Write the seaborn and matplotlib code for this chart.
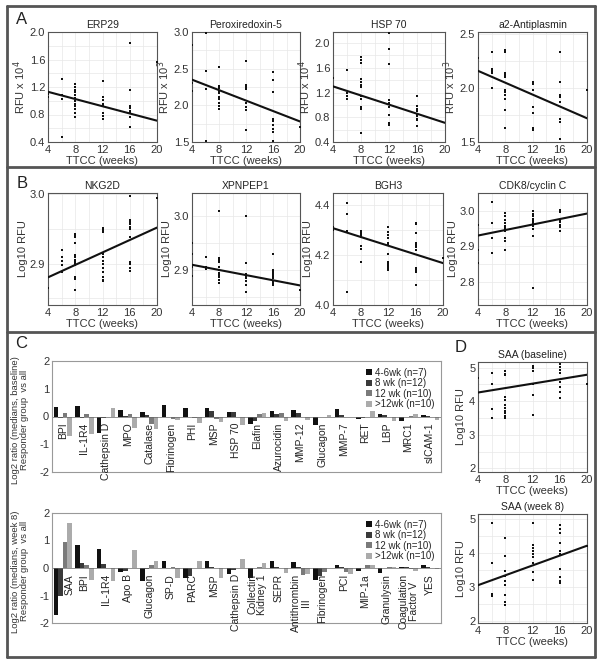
import numpy as np
import pandas as pd
import seaborn as sns
import matplotlib.pyplot as plt
from matplotlib.lines import Line2D
from matplotlib.ticker import AutoMinorLocator

W, H = 602, 664

# scatter panels: week -> measured values
erp29 = {4: [1.10, 1.05], 6: [1.32, 1.08, 1.03, 0.47],
         8: [1.24, 1.20, 1.16, 1.12, 1.08, 1.04, 1.00, 0.96, 0.92, 0.88, 0.82, 0.76],
         12: [1.29, 1.05, 1.01, 0.96, 0.92, 0.82, 0.78, 0.74],
         16: [1.84, 1.15, 0.93, 0.89, 0.85, 0.82, 0.77, 0.62], 20: [1.56]}
erp29_fit = [1.13, 0.71]

perox = {4: [2.82, 2.30, 2.20], 6: [2.98, 2.47, 2.22, 1.52],
         8: [2.52, 2.27, 2.24, 2.20, 2.17, 2.12, 2.08, 2.03, 1.99, 1.95],
         12: [2.60, 2.28, 2.25, 2.22, 2.03, 1.98, 1.93, 1.67],
         16: [2.45, 2.34, 2.18, 1.82, 1.78, 1.73, 1.68, 1.64, 1.51], 20: [1.70]}
perox_fit = [2.35, 1.78]

hsp70 = {4: [1.44], 6: [1.56, 1.20, 1.14, 1.09],
         8: [1.77, 1.73, 1.68, 1.42, 1.37, 1.33, 1.29, 1.14, 1.10, 0.97, 0.93, 0.55],
         12: [2.17, 1.90, 1.67, 1.08, 1.03, 0.97, 0.83, 0.71, 0.67],
         16: [1.15, 0.98, 0.94, 0.90, 0.86, 0.82, 0.78, 0.75, 0.66]}
hsp70_fit = [1.30, 0.71]

antiplasmin = {4: [2.28], 6: [2.33, 2.18, 2.16, 2.14, 2.00],
               8: [2.35, 2.33, 2.14, 2.12, 2.10, 1.98, 1.96, 1.94, 1.90, 1.80, 1.63],
               12: [2.06, 2.04, 1.98, 1.82, 1.77, 1.63, 1.61],
               16: [2.33, 2.06, 1.94, 1.92, 1.87, 1.71, 1.69, 1.53], 20: [1.98]}
antiplasmin_fit = [2.16, 1.72]

nkg2d = {4: [2.881, 2.864], 6: [2.919, 2.909, 2.904, 2.898, 2.888],
         8: [2.943, 2.940, 2.938, 2.929, 2.912, 2.909, 2.905, 2.902, 2.900, 2.898, 2.881, 2.878, 2.861],
         12: [2.952, 2.948, 2.945, 2.914, 2.909, 2.904, 2.899, 2.894, 2.888, 2.881, 2.876, 2.874],
         16: [2.997, 2.963, 2.960, 2.957, 2.953, 2.950, 2.939, 2.902, 2.899, 2.894, 2.889],
         20: [2.995]}
nkg2d_fit = [2.880, 2.952]

xpnpep1 = {4: [2.950, 2.929, 2.906, 2.889], 6: [2.924, 2.906, 2.903],
           8: [3.009, 2.923, 2.919, 2.915, 2.905, 2.900, 2.895, 2.891, 2.887, 2.882, 2.876],
           12: [3.000, 2.913, 2.893, 2.889, 2.885, 2.881, 2.873, 2.859],
           16: [2.930, 2.901, 2.897, 2.893, 2.889, 2.885, 2.881, 2.877, 2.873],
           20: [2.864]}
xpnpep1_fit = [2.910, 2.872]

bgh3 = {4: [4.312, 4.302], 6: [4.410, 4.365, 4.295, 4.053],
        8: [4.298, 4.288, 4.281, 4.274, 4.236, 4.225, 4.171],
        12: [4.312, 4.292, 4.281, 4.267, 4.250, 4.242, 4.204, 4.171, 4.166, 4.157, 4.150, 4.140],
        16: [4.330, 4.323, 4.288, 4.250, 4.242, 4.232, 4.222, 4.150, 4.140, 4.133, 4.081],
        20: [4.190]}
bgh3_fit = [4.308, 4.168]

cdk8 = {4: [2.961, 2.888, 2.853], 6: [3.025, 2.966, 2.923, 2.881],
        8: [2.994, 2.985, 2.975, 2.966, 2.956, 2.952, 2.947, 2.942, 2.923, 2.914, 2.889],
        12: [2.999, 2.992, 2.985, 2.977, 2.970, 2.964, 2.956, 2.949, 2.928, 2.783],
        16: [3.003, 2.997, 2.975, 2.968, 2.961, 2.954, 2.942]}
cdk8_fit = [2.930, 2.992]

saa_base = {4: [4.70], 6: [4.84, 4.52, 3.76, 3.51],
            8: [4.89, 4.82, 4.77, 4.13, 4.03, 3.88, 3.80, 3.72, 3.64, 3.56, 3.49],
            12: [5.05, 4.98, 4.90, 4.52, 4.20, 3.60],
            16: [5.10, 5.02, 4.93, 4.85, 4.57, 4.43, 4.28, 4.10], 20: [4.50]}
saa_base_fit = [4.26, 4.79]

saa_w8 = {6: [4.88, 3.71, 2.78, 2.73],
          8: [4.46, 3.93, 3.46, 3.31, 3.17, 3.07, 2.75, 2.55, 2.45],
          12: [4.90, 4.24, 4.16, 4.07, 3.98, 3.89, 3.72, 3.44, 3.20],
          16: [4.83, 4.71, 4.61, 4.31, 4.05, 3.98, 3.53, 3.29, 3.16, 3.12], 20: [4.20]}
saa_w8_fit = [3.05, 4.22]

# bar panels
groups = ["4-6wk (n=7)", "8 wk (n=12)", "12 wk (n=10)", ">12wk (n=10)"]
group_colors = ["#111111", "#3a3a3a", "#7a7a7a", "#ababab"]

base_genes = ["BPI", "IL-1R4", "Cathepsin D", "MPO", "Catalase", "Fibrinogen", "PHI", "MSP",
              "HSP 70", "Elafin", "Azurocidin", "MMP-12", "Glucagon", "MMP-7", "RET", "LBP",
              "MRC1", "sICAM-1"]
base_wk4_6 = [0.35, 0.37, -0.60, 0.25, 0.18, 0.40, 0.30, 0.30, 0.18, -0.27, 0.20, 0.22, -0.30, 0.28, -0.08, 0.10, -0.18, 0.07]
base_wk8 = [-0.06, -0.05, -0.05, 0.02, 0.07, -0.02, -0.03, 0.20, 0.15, -0.18, 0.10, 0.12, 0.00, 0.05, -0.07, 0.06, 0.00, 0.02]
base_wk12 = [0.12, 0.08, -0.02, 0.08, -0.28, -0.08, -0.05, -0.10, -0.03, 0.10, 0.14, 0.00, 0.00, 0.00, 0.00, 0.00, 0.02, 0.00]
base_wk12p = [-0.70, -0.62, 0.30, -0.42, -0.45, -0.12, -0.22, -0.20, -0.30, 0.12, -0.18, -0.12, 0.05, -0.02, 0.20, -0.15, 0.10, -0.13]

w8_genes = ["SAA", "BPI", "IL-1R4", "Apo B", "Glucagon", "SP-D", "PARC", "MSP", "Cathepsin D",
            "Collectin\nKidney 1", "SEPR", "Antithrombin\nIII", "Fibrinogen", "PCI", "MIP-1a",
            "Granulysin", "Coagulation\nFactor V", "YES"]
w8_wk4_6 = [-1.70, 0.85, 0.70, -0.15, -0.47, 0.27, -0.35, 0.24, -0.20, -0.35, 0.27, 0.22, -0.45, 0.10, -0.12, -0.18, 0.05, 0.10]
w8_wk8 = [-1.00, 0.18, 0.15, -0.10, -0.03, 0.00, -0.30, 0.05, -0.08, 0.00, 0.02, 0.05, -0.30, 0.05, 0.00, 0.00, 0.02, 0.05]
w8_wk12 = [0.93, 0.10, 0.00, 0.00, 0.10, 0.03, 0.00, 0.00, 0.00, 0.05, 0.00, -0.25, -0.15, -0.15, 0.10, 0.05, -0.05, 0.00]
w8_wk12p = [1.65, -0.45, -0.48, 0.65, 0.25, -0.35, 0.25, -0.37, 0.33, 0.18, -0.18, -0.20, 0.00, -0.22, 0.12, 0.05, -0.12, -0.03]

sns.set_theme(style="white")
plt.rcParams['font.family'] = ['Liberation Sans', 'DejaVu Sans']
plt.rcParams['axes.unicode_minus'] = False

fig = plt.figure(figsize=(W / 100, H / 100), dpi=100)


def px_axes(left, top, right, bottom):
    return fig.add_axes([left / W, 1 - bottom / H, (right - left) / W, (bottom - top) / H])


def scatter_panel(ax, title, data, fit, ylim, yticks, ylabel, fmt):
    df = pd.DataFrame([(wk, v) for wk, vals in data.items() for v in vals], columns=["week", "value"])
    sns.scatterplot(data=df, x="week", y="value", ax=ax, color="#111111", s=3, linewidth=0,
                    marker="s", zorder=3)
    ax.plot([4, 20], fit, color="#111111", lw=1.5, zorder=4)
    ax.set_xlim(4, 20)
    ax.set_ylim(*ylim)
    ax.set_xticks([4, 8, 12, 16, 20])
    ax.set_yticks(yticks)
    ax.set_yticklabels([fmt % t for t in yticks])
    ax.xaxis.set_minor_locator(AutoMinorLocator(2))
    ax.yaxis.set_minor_locator(AutoMinorLocator(2))
    ax.grid(True, which="both", color="#e8e8e8", lw=0.5)
    ax.tick_params(length=0, labelsize=8, pad=2, colors="#333333")
    ax.set_title(title, fontsize=7.5, pad=3, color="#222222")
    ax.set_xlabel("TTCC (weeks)", fontsize=8, labelpad=1, color="#333333")
    ax.set_ylabel(ylabel, fontsize=8, labelpad=1, color="#333333")
    for s in ax.spines.values():
        s.set_color("#555555")
        s.set_linewidth(0.8)


def bar_panel(ax, genes, series, ylabel, label_shift):
    rows = []
    for g, vals in zip(groups, series):
        for gene, v in zip(genes, vals):
            rows.append((gene, g, v))
    df = pd.DataFrame(rows, columns=["gene", "group", "value"])
    sns.barplot(data=df, x="gene", y="value", hue="group", order=genes, hue_order=groups,
                palette=group_colors, saturation=1, width=0.85, errorbar=None, linewidth=0, ax=ax)
    ax.set_ylim(-2, 2)
    ax.set_yticks([-2, -1, 0, 1, 2])
    ax.set_xticks([])
    ax.set_xlabel("")
    ax.set_ylabel(ylabel, fontsize=6.8, labelpad=4, color="#333333", linespacing=1.0)
    ax.yaxis.set_label_coords(-0.06, 0.47)
    ax.axhline(0, color="#666666", lw=0.5)
    ax.tick_params(length=0, labelsize=8, pad=2, colors="#333333")
    for i, gene in enumerate(genes):
        ax.text(i + label_shift.get(gene, 0), -0.22, gene, rotation=90, ha="center", va="top",
                fontsize=7.5, color="#222222", linespacing=1.0, multialignment="center")
    ax.legend(loc="upper right", frameon=False, fontsize=7, handlelength=0.6, handleheight=0.6,
              handletextpad=0.3, labelspacing=0.05, borderaxespad=0.3)
    for s in ax.spines.values():
        s.set_color("#999999")
        s.set_linewidth(0.8)


# panel A
scatter_panel(px_axes(48, 32, 157, 142), "ERP29", erp29, erp29_fit, (0.4, 2.0),
              [0.4, 0.8, 1.2, 1.6, 2.0], r"RFU x 10$^4$", "%.1f")
scatter_panel(px_axes(192, 32, 300, 142), "Peroxiredoxin-5", perox, perox_fit, (1.5, 3.0),
              [1.5, 2.0, 2.5, 3.0], r"RFU x 10$^3$", "%.1f")
scatter_panel(px_axes(333, 32, 445, 142), "HSP 70", hsp70, hsp70_fit, (0.4, 2.18),
              [0.4, 0.8, 1.2, 1.6, 2.0], r"RFU x 10$^4$", "%.1f")
scatter_panel(px_axes(478, 32, 587, 142), "a2-Antiplasmin", antiplasmin, antiplasmin_fit, (1.5, 2.52),
              [1.5, 2.0, 2.5], r"RFU x 10$^3$", "%.1f")

# panel B
scatter_panel(px_axes(48, 193, 157, 305), "NKG2D", nkg2d, nkg2d_fit, (2.84, 3.002),
              [2.9, 3.0], "Log10 RFU", "%.1f")
scatter_panel(px_axes(192, 193, 300, 305), "XPNPEP1", xpnpep1, xpnpep1_fit, (2.836, 3.042),
              [2.9, 3.0], "Log10 RFU", "%.1f")
scatter_panel(px_axes(333, 193, 443, 305), "BGH3", bgh3, bgh3_fit, (4.0, 4.449),
              [4.0, 4.2, 4.4], "Log10 RFU", "%.1f")
scatter_panel(px_axes(478, 193, 587, 305), "CDK8/cyclin C", cdk8, cdk8_fit, (2.734, 3.05),
              [2.8, 2.9, 3.0], "Log10 RFU", "%.1f")

# panel C
bar_panel(px_axes(52, 361, 441, 472), base_genes, [base_wk4_6, base_wk8, base_wk12, base_wk12p],
          "Log2 ratio (medians, baseline)\nResponder group  vs all", {})
bar_panel(px_axes(52, 513, 441, 623), w8_genes, [w8_wk4_6, w8_wk8, w8_wk12, w8_wk12p],
          "Log2 ratio (medians, week 8)\nResponder group  vs all", {"SAA": 0.3})

# panel D
scatter_panel(px_axes(478, 362, 587, 472), "SAA (baseline)", saa_base, saa_base_fit, (1.89, 5.17),
              [2, 3, 4, 5], "Log10 RFU", "%d")
scatter_panel(px_axes(478, 514, 587, 623), "SAA (week 8)", saa_w8, saa_w8_fit, (1.93, 5.16),
              [2, 3, 4, 5], "Log10 RFU", "%d")

# panel frames
def fig_line(x0, y0, x1, y1):
    fig.add_artist(Line2D([x0 / W, x1 / W], [1 - y0 / H, 1 - y1 / H], transform=fig.transFigure,
                          color="#555555", lw=2))

fig_line(7, 6, 595, 6)
fig_line(7, 657, 595, 657)
fig_line(7, 6, 7, 657)
fig_line(595, 6, 595, 657)
fig_line(7, 167, 595, 167)
fig_line(7, 332, 595, 332)

for letter, x, y in [("A", 16, 20), ("B", 17, 184), ("C", 15, 343), ("D", 455, 348)]:
    fig.text(x / W, 1 - y / H, letter, fontsize=12, va="center", ha="left", color="#222222")

fig.savefig("out.png", dpi=100)
